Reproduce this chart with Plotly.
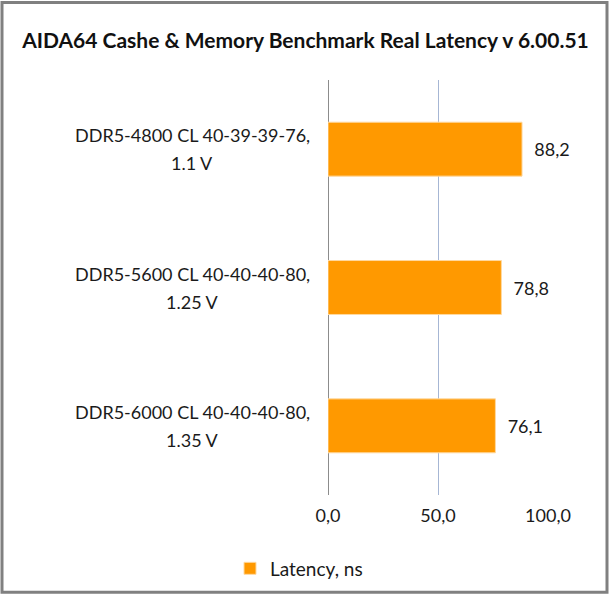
import plotly.graph_objects as go

categories = ["DDR5-4800 CL 40-39-39-76,<br>1.1 V",
              "DDR5-5600 CL 40-40-40-80,<br>1.25 V",
              "DDR5-6000 CL 40-40-40-80,<br>1.35 V"]
latency = [88.2, 78.8, 76.1]
series_name = "Latency, ns"
title = "AIDA64 Cashe & Memory Benchmark Real Latency v 6.00.51"
x_ticks = [0, 50, 100]

FONT = "Lato, 'Open Sans', sans-serif"
TXT = "#1a1a1a"

L, R, T, B = 328, 63, 80, 102
PW, PH = 611 - L - R, 600 - T - B

def px_x(p):
    return (p - L) / PW

def px_y(p):
    return (600 - B - p) / PH

fig = go.Figure()
fig.add_trace(go.Bar(
    y=list(range(len(categories))), x=latency, orientation="h",
    name=series_name, marker=dict(color="#FF9900", line=dict(color="#FFD9A0", width=1)),
    texttemplate="  %{x:.1f}", textposition="outside",
    textfont=dict(family=FONT, size=18, color=TXT),
    cliponaxis=False, width=0.39, showlegend=True,
))

for i, c in enumerate(categories):
    lines = c.split("<br>")
    n = len(lines)
    for j, line in enumerate(lines):
        fig.add_annotation(x=px_x(192), xref="paper", y=i, yref="y", text=line,
                           showarrow=False, xanchor="center", align="center",
                           yshift=14 * (n - 1) - 28 * j,
                           font=dict(family=FONT, size=18, color=TXT))

# outer frame
fig.add_shape(type="rect", xref="paper", yref="paper",
              x0=px_x(2), x1=px_x(607), y0=px_y(596), y1=px_y(2),
              line=dict(color="#808080", width=3), layer="below")

fig.update_layout(
    width=611, height=600,
    margin=dict(l=L, r=R, t=T, b=B),
    paper_bgcolor="white", plot_bgcolor="white",
    separators=",.",
    title=dict(text="<b>" + title + "</b>", x=0.5, xanchor="center", y=1 - 41 / 600, yanchor="middle",
               font=dict(family=FONT, size=21, color="#111111")),
    xaxis=dict(range=[0, 100], tickvals=x_ticks, tickformat=".1f",
               showgrid=True, gridcolor="#A6B6D4", gridwidth=1,
               zeroline=True, zerolinecolor="#8C8C8C", zerolinewidth=1,
               tickfont=dict(family=FONT, size=18, color=TXT), ticks="",
               ticklabelstandoff=8),
    yaxis=dict(range=[2.5, -0.5], showticklabels=False, showgrid=False,
               zeroline=False, showline=False),
    legend=dict(orientation="h", x=px_x(230), xanchor="left", y=px_y(572), yanchor="middle",
                font=dict(family=FONT, size=19, color=TXT), itemwidth=30),
    showlegend=True,
)

fig.write_html("out.html", config={"displayModeBar": False},
               post_script="document.body.style.margin='0';document.body.style.overflow='hidden';")
